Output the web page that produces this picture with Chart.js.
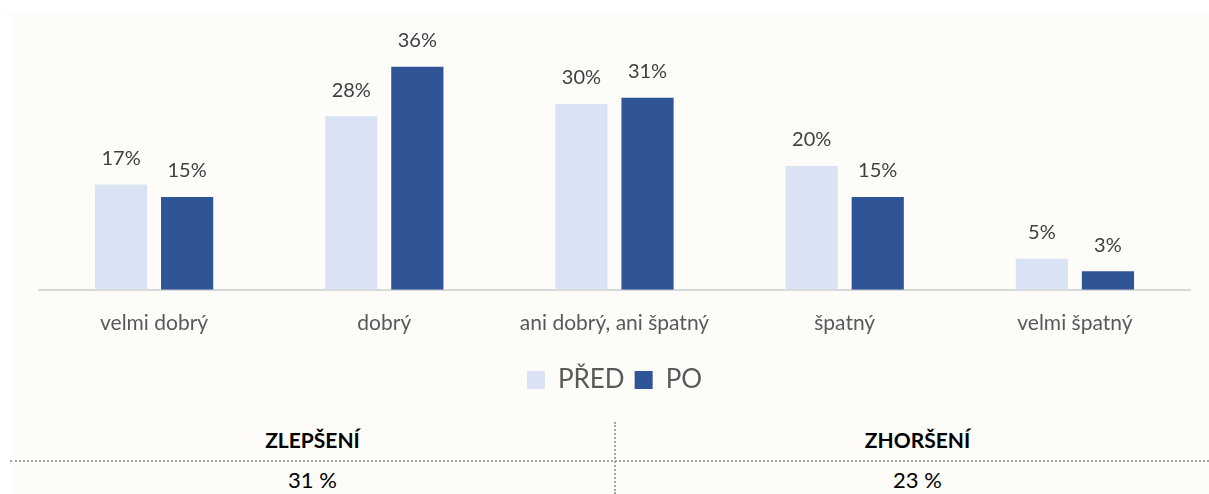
<!DOCTYPE html>
<html>
<head>
<meta charset="utf-8">
<script src="https://cdn.jsdelivr.net/npm/chart.js@4/dist/chart.umd.min.js"></script>
<style>
    html, body { margin: 0; padding: 0; background: #ffffff; }
    #panel {
        position: absolute; left: 10px; top: 13px; width: 1199px; height: 481px;
        background: #fdfcf8; font-family: Lato, sans-serif;
    }
    #chartBox { position: absolute; left: 0; top: 0; width: 1199px; height: 390px; }
    .cell { position: absolute; width: 605px; text-align: center; color: #000; }
    .head { font-weight: bold; font-size: 21px; }
    .val { font-size: 22px; }
    #hline { position: absolute; left: 0; top: 447px; width: 1199px; border-top: 2px dotted #a6a6a6; }
    #vline { position: absolute; left: 604px; top: 409px; height: 72px; border-left: 2px dotted #a6a6a6; }
</style>
</head>
<body>
<div id="panel">
    <div id="chartBox"><canvas id="barChart"></canvas></div>
    <div id="vline"></div>
    <div id="hline"></div>
    <div class="cell head" id="h1" style="left:0; top:414px;"></div>
    <div class="cell head" id="h2" style="left:605px; top:414px;"></div>
    <div class="cell val" id="v1" style="left:0; top:453px;"></div>
    <div class="cell val" id="v2" style="left:605px; top:453px;"></div>
</div>
<script>
// --- DATA ---
const categories = ['velmi dobrý', 'dobrý', 'ani dobrý, ani špatný', 'špatný', 'velmi špatný'];
const seriesNames = ['PŘED', 'PO'];
const valuesPred = [17, 28, 30, 20, 5];
const valuesPo = [15, 36, 31, 15, 3];
const summaryHeads = ['ZLEPŠENÍ', 'ZHORŠENÍ'];
const summaryValues = ['31 %', '23 %'];

document.getElementById('h1').innerText = summaryHeads[0];
document.getElementById('h2').innerText = summaryHeads[1];
document.getElementById('v1').innerText = summaryValues[0];
document.getElementById('v2').innerText = summaryValues[1];

// value labels above bars
const barLabels = {
    id: 'barLabels',
    afterDatasetsDraw(chart) {
        const ctx = chart.ctx;
        ctx.save();
        ctx.font = '20px Lato';
        ctx.fillStyle = '#404040';
        ctx.textAlign = 'center';
        ctx.textBaseline = 'middle';
        chart.data.datasets.forEach((ds, i) => {
            chart.getDatasetMeta(i).data.forEach((bar, j) => {
                ctx.fillText(ds.data[j] + '%', bar.x, bar.y - 26);
            });
        });
        ctx.restore();
    }
};

new Chart(document.getElementById('barChart').getContext('2d'), {
    type: 'bar',
    data: {
        labels: categories,
        datasets: [
            { label: seriesNames[0], data: valuesPred, backgroundColor: '#dae3f3' },
            { label: seriesNames[1], data: valuesPo, backgroundColor: '#2f5597' }
        ]
    },
    options: {
        responsive: true,
        maintainAspectRatio: false,
        animation: false,
        categoryPercentage: 0.574,
        barPercentage: 0.79,
        layout: { padding: { left: 29, right: 19, top: 29, bottom: 0 } },
        plugins: {
            legend: {
                position: 'bottom',
                labels: { boxWidth: 18, boxHeight: 18, padding: 10, color: '#595959', font: { family: 'Lato', size: 26 } }
            },
            tooltip: { enabled: false }
        },
        scales: {
            x: {
                grid: { display: false, drawTicks: false },
                border: { color: '#d9d9d9', width: 2 },
                ticks: { color: '#595959', padding: 21, font: { family: 'Lato', size: 21 } }
            },
            y: { display: false, min: 0, max: 40 }
        }
    },
    plugins: [barLabels]
});
</script>
</body>
</html>
